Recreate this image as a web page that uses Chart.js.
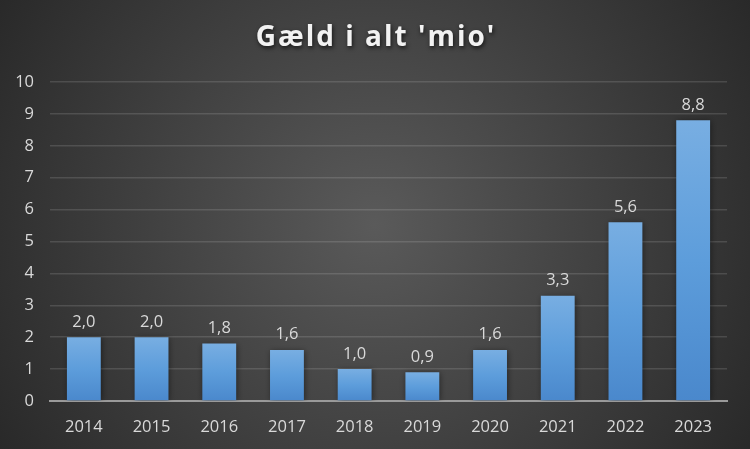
<!DOCTYPE html>
<html>
<head>
<meta charset="utf-8">
<script src="https://cdn.jsdelivr.net/npm/chart.js@4"></script>
<style>
  html, body { margin: 0; padding: 0; background: #2b2b2b; }
  #wrap { width: 750px; height: 449px; }
</style>
</head>
<body>
<div id="wrap"><canvas id="debtChart" width="750" height="449"></canvas></div>
<script>
// Data
const years = ['2014', '2015', '2016', '2017', '2018', '2019', '2020', '2021', '2022', '2023'];
const debt = [2.0, 2.0, 1.8, 1.6, 1.0, 0.9, 1.6, 3.3, 5.6, 8.8];
const chartTitle = "Gæld i alt 'mio'";

const FONT = "'Open Sans', 'DejaVu Sans', sans-serif";

// dark radial background + title
const backdrop = {
    id: 'backdrop',
    beforeDraw(chart) {
        const { ctx, width, height } = chart;
        const g = ctx.createRadialGradient(width / 2, height / 2, 0, width / 2, height / 2, width * 0.62);
        g.addColorStop(0, '#5a5a5a');
        g.addColorStop(1, '#262626');
        ctx.save();
        ctx.fillStyle = g;
        ctx.fillRect(0, 0, width, height);
        ctx.restore();
    },
    afterDraw(chart) {
        const { ctx, width } = chart;
        ctx.save();
        ctx.font = `bold 28px ${FONT}`;
        ctx.letterSpacing = '2px';
        ctx.textAlign = 'center';
        ctx.textBaseline = 'middle';
        ctx.shadowColor = 'rgba(0,0,0,0.7)';
        ctx.shadowBlur = 4;
        ctx.shadowOffsetX = 1;
        ctx.shadowOffsetY = 2;
        ctx.fillStyle = '#f2f2f2';
        ctx.fillText(chartTitle, width / 2 + 1, 38);
        ctx.restore();
    }
};

// soft shadow behind the bars
const barShadow = {
    id: 'barShadow',
    beforeDatasetsDraw(chart) {
        const { ctx } = chart;
        ctx.save();
        ctx.shadowColor = 'rgba(0,0,0,0.45)';
        ctx.shadowBlur = 6;
        ctx.shadowOffsetX = 1;
        ctx.shadowOffsetY = 1;
    },
    afterDatasetsDraw(chart) {
        chart.ctx.restore();
    }
};

// value labels above bars, with comma decimals
const valueLabels = {
    id: 'valueLabels',
    afterDatasetsDraw(chart) {
        const { ctx } = chart;
        const meta = chart.getDatasetMeta(0);
        ctx.save();
        ctx.font = `16.5px ${FONT}`;
        ctx.fillStyle = '#d9d9d9';
        ctx.textAlign = 'center';
        ctx.textBaseline = 'bottom';
        meta.data.forEach((bar, i) => {
            const txt = debt[i].toFixed(1).replace('.', ',');
            ctx.fillText(txt, bar.x, bar.y - 7);
        });
        ctx.restore();
    }
};

function barFill(context) {
    const chart = context.chart;
    const y = chart.scales.y;
    if (!chart.chartArea || !y) return '#5b9bd5';
    const top = y.getPixelForValue(context.raw);
    const base = y.getPixelForValue(0);
    const g = chart.ctx.createLinearGradient(0, top, 0, base);
    g.addColorStop(0, '#78aee2');
    g.addColorStop(0.5, '#5d9ddb');
    g.addColorStop(1, '#4a88cc');
    return g;
}

new Chart(document.getElementById('debtChart'), {
    type: 'bar',
    data: {
        labels: years,
        datasets: [{
            data: debt,
            backgroundColor: barFill,
            borderWidth: 0,
            barPercentage: 0.5,
            categoryPercentage: 1.0
        }]
    },
    options: {
        responsive: false,
        animation: false,
        layout: { padding: { top: 82, right: 23, left: 0, bottom: 0 } },
        plugins: {
            legend: { display: false },
            title: { display: false },
            tooltip: { enabled: false }
        },
        scales: {
            x: {
                grid: { display: false },
                border: { color: '#9a9a9a', width: 2 },
                ticks: { color: '#d9d9d9', font: { family: FONT, size: 16.5 }, padding: 8 },
                afterFit(scale) { scale.height = 48; }
            },
            y: {
                min: 0,
                max: 10,
                ticks: { stepSize: 1, color: '#d9d9d9', font: { family: FONT, size: 16.5 }, padding: 16 },
                grid: { color: 'rgba(255,255,255,0.13)', lineWidth: 1.5, drawTicks: false },
                border: { display: false },
                afterFit(scale) { scale.width = 50; }
            }
        }
    },
    plugins: [backdrop, barShadow, valueLabels]
});
</script>
</body>
</html>
